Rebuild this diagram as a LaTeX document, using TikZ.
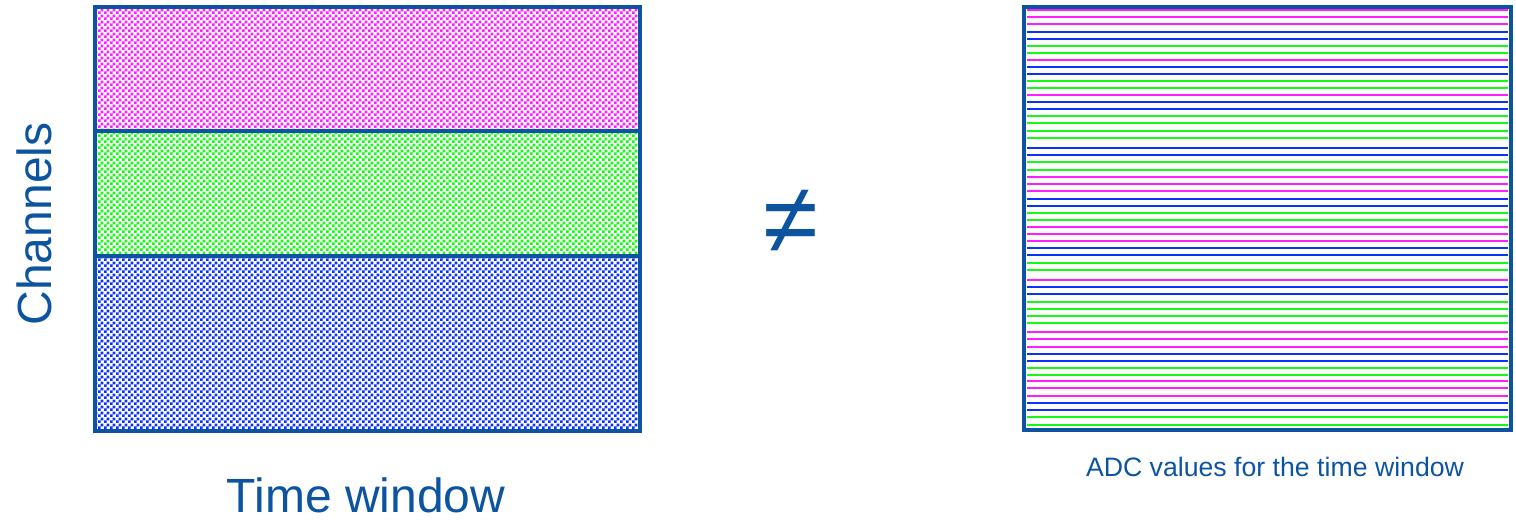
\documentclass[tikz,border=0pt]{standalone}
\usepackage{fontspec}
\setmainfont{Liberation Sans}
\usetikzlibrary{patterns.meta, positioning}

\definecolor{framecol}{RGB}{12,84,160}
\definecolor{magcol}{RGB}{255,30,255}
\definecolor{grncol}{RGB}{20,250,20}
\definecolor{blucol}{RGB}{10,50,250}

% checker dots used in the channel bands
\pgfdeclarepattern{
  name=chkdots, type=uncolored,
  bottom left={\pgfpoint{0pt}{0pt}}, top right={\pgfpoint{4.6pt}{4.6pt}},
  tile size={\pgfpoint{4.6pt}{4.6pt}},
  code={
    \pgfpathrectangle{\pgfpointorigin}{\pgfpoint{2.3pt}{2.3pt}}
    \pgfpathrectangle{\pgfpoint{2.3pt}{2.3pt}}{\pgfpoint{2.3pt}{2.3pt}}
    \pgfusepath{fill}
  }
}

\begin{document}
\begin{tikzpicture}[
    x=0.75pt, y=-0.75pt,
    frame/.style={draw=framecol, line width=3pt},
    band/.style={pattern=chkdots, draw=none},
    adcline/.style={line width=2.05pt},
    lbl/.style={text=framecol, inner sep=0pt}
]
\useasboundingbox (0,0) rectangle (1516,520);

% Channel bands (left box)
\fill[band, pattern color=magcol] (95,7) rectangle (640,131);
\fill[band, pattern color=grncol] (95,131) rectangle (640,256);
\fill[band, pattern color=blucol] (95,256) rectangle (640,431);
\draw[frame] (95,7) rectangle (640,431);
\draw[frame] (95,131) -- (640,131);
\draw[frame] (95,256) -- (640,256);

% ADC values (right box)
\foreach \yy/\cc in {10/magcol, 17/magcol, 24/magcol, 32/blucol, 39/blucol, 46/grncol, 53/grncol,
    60/magcol, 67/blucol, 74/blucol, 81/grncol, 88/grncol,
    95/magcol, 102/blucol, 109/blucol, 116/grncol, 123/grncol, 131/grncol, 138/grncol,
    148/blucol, 155/blucol, 162/grncol, 170/grncol,
    177/magcol, 184/magcol, 191/magcol, 199/blucol, 206/blucol, 213/grncol, 220/grncol,
    227/magcol, 234/magcol, 241/magcol, 248/blucol, 255/blucol, 263/grncol, 270/grncol,
    280/magcol, 287/blucol, 294/blucol, 302/grncol, 309/grncol, 316/grncol, 323/grncol,
    332/magcol, 339/magcol, 347/magcol, 354/blucol, 361/blucol, 368/grncol, 375/grncol,
    381/magcol, 388/magcol, 396/magcol, 403/blucol, 410/blucol, 417/grncol, 425/grncol} {
    \draw[adcline, \cc] (1027,\yy) -- (1508,\yy);
}
\draw[frame] (1024,7) rectangle (1511,430);

% Labels
\node[lbl, anchor=base, font=\fontsize{36}{40}\selectfont] (timelbl) at (366,512) {Time window};
\node[lbl, anchor=base, rotate=90, font=\fontsize{36}{40}\selectfont] (chanlbl) at (51,224) {Channels};
\node[lbl, anchor=base, font=\fontsize{20}{24}\selectfont] (adclbl) at (1275,476) {ADC values for the time window};
\node[lbl, font=\fontsize{75}{80}\selectfont] (neqsign) at (791,222) {≠};

\end{tikzpicture}
\end{document}
